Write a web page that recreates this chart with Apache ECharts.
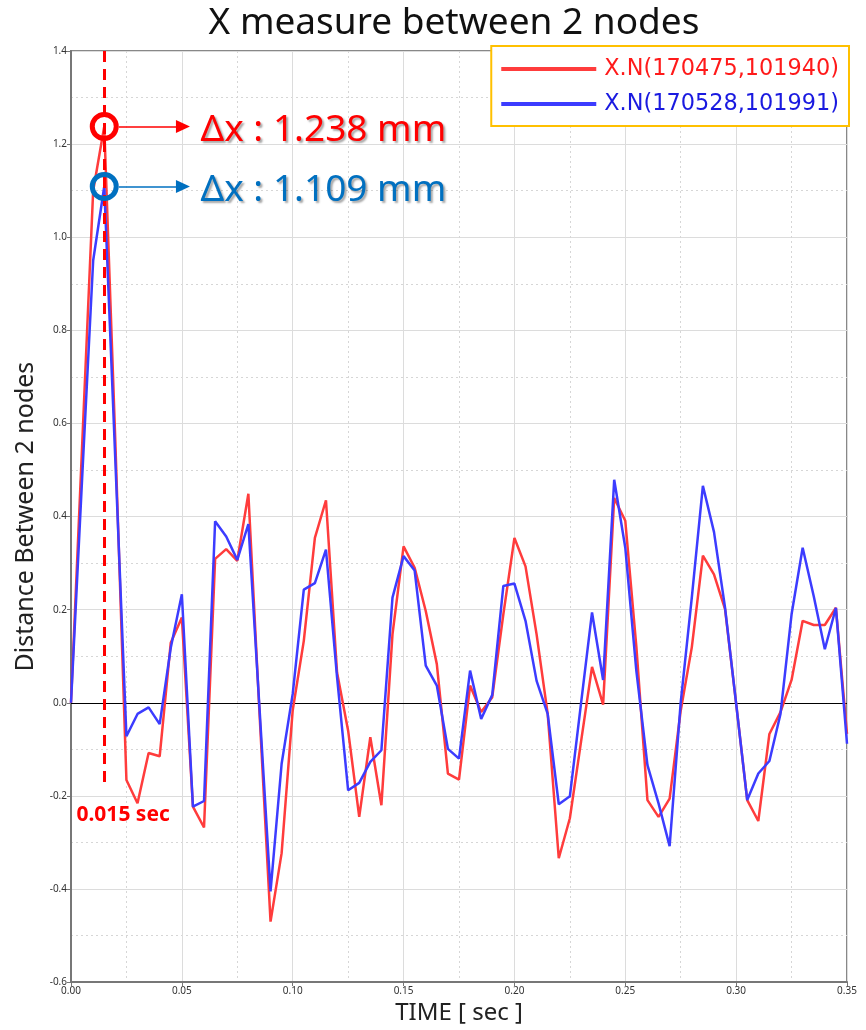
<!DOCTYPE html>
<html>
<head>
<meta charset="utf-8">
<script src="https://cdn.jsdelivr.net/npm/echarts@6/dist/echarts.min.js"></script>
<style>
html,body{margin:0;padding:0;background:#fff;}
#chart{width:866px;height:1030px;}
</style>
</head>
<body>
<div id="chart"></div>
<script>
// ---- data ----
const times = [0.000,0.005,0.010,0.015,0.020,0.025,0.030,0.035,0.040,0.045,
  0.050,0.055,0.060,0.065,0.070,0.075,0.080,0.085,0.090,0.095,
  0.100,0.105,0.110,0.115,0.120,0.125,0.130,0.135,0.140,0.145,
  0.150,0.155,0.160,0.165,0.170,0.175,0.180,0.185,0.190,0.195,
  0.200,0.205,0.210,0.215,0.220,0.225,0.230,0.235,0.240,0.245,
  0.250,0.255,0.260,0.265,0.270,0.275,0.280,0.285,0.290,0.295,
  0.300,0.305,0.310,0.315,0.320,0.325,0.330,0.335,0.340,0.345,0.350];
const redValues = [0,0.55,1.10,1.238,0.56,-0.166,-0.216,-0.108,-0.115,0.129,
  0.183,-0.223,-0.268,0.309,0.330,0.305,0.449,-0.02,-0.470,-0.323,
  -0.016,0.133,0.354,0.435,0.065,-0.060,-0.245,-0.074,-0.220,0.147,
  0.336,0.290,0.197,0.083,-0.152,-0.165,0.037,-0.020,0.012,0.19,
  0.354,0.293,0.147,-0.024,-0.334,-0.248,-0.085,0.077,-0.004,0.440,
  0.391,0.12,-0.209,-0.245,-0.206,-0.017,0.119,0.316,0.276,0.201,
  -0.002,-0.209,-0.254,-0.067,-0.020,0.049,0.176,0.167,0.167,0.204,-0.067];
const blueValues = [0,0.48,0.95,1.109,0.52,-0.072,-0.024,-0.010,-0.046,0.118,
  0.233,-0.223,-0.211,0.390,0.357,0.307,0.384,-0.01,-0.405,-0.131,
  0.019,0.243,0.257,0.329,0.055,-0.188,-0.172,-0.127,-0.102,0.226,
  0.315,0.284,0.080,0.037,-0.099,-0.120,0.069,-0.035,0.017,0.251,
  0.256,0.176,0.047,-0.024,-0.218,-0.201,-0.003,0.194,0.049,0.479,
  0.333,0.068,-0.134,-0.216,-0.308,0.001,0.226,0.466,0.367,0.204,
  -0.002,-0.209,-0.152,-0.125,-0.024,0.190,0.333,0.229,0.115,0.204,-0.088];
const seriesNames = ['X.N(170475,101940)','X.N(170528,101991)'];
const peakTime = 0.015;
const redPeak = 1.238;
const bluePeak = 1.109;
const redLabel = 'Δx : 1.238 mm';
const blueLabel = 'Δx : 1.109 mm';
const timeLabel = '0.015 sec';
const titleText = 'X measure between 2 nodes';
const xName = 'TIME [ sec ]';
const yName = 'Distance Between 2 nodes';

// ---- chart ----
const FONT = '"Noto Sans", "Open Sans", sans-serif';
const RED = '#FF0000', BLUE_ANN = '#0070C0';
const pair = (xs, ys) => xs.map((t, i) => [t, ys[i]]);
const chart = echarts.init(document.getElementById('chart'), null, {renderer:'canvas'});

function annPoint(x, y, text, color, size, weight, pos) {
  return {
    coord: [x, y], symbol: 'circle', symbolSize: 1,
    itemStyle: {color: 'rgba(0,0,0,0)'},
    label: {show: true, position: pos, distance: 0, formatter: text, color: color,
      fontSize: size, fontWeight: weight, fontFamily: FONT,
      textShadowColor: weight === 'bold' ? 'transparent' : 'rgba(0,0,0,0.35)',
      textShadowOffsetX: 2, textShadowOffsetY: 2, textShadowBlur: 2}
  };
}
function ringPoint(x, y, color) {
  return {coord: [x, y], symbol: 'circle', symbolSize: 24,
    itemStyle: {color: 'rgba(255,255,255,0)', borderColor: color, borderWidth: 5},
    label: {show: false}};
}

const option = {
  backgroundColor: '#fff',
  animation: false,
  title: {text: titleText, left: 449, top: 0, textAlign: 'center',
    textStyle: {fontFamily: FONT, fontSize: 37, fontWeight: 'normal', color: '#111'}},
  legend: {
    orient: 'vertical', right: 17, top: 46,
    backgroundColor: '#fff',
    borderColor: '#FFC000', borderWidth: 2, padding: [10, 10, 9, 10],
    itemGap: 9, itemWidth: 95, itemHeight: 4, icon: 'rect',
    textStyle: {fontFamily: '"DejaVu Sans", sans-serif', fontSize: 22.4, lineHeight: 26, padding: [0,0,0,3]},
    data: [
      {name: seriesNames[0], textStyle: {color: '#FF1A1A'}},
      {name: seriesNames[1], textStyle: {color: '#1A1AE0'}}
    ]
  },
  grid: {left: 71, right: 19, top: 51, bottom: 44, show: true, borderColor: '#888', borderWidth: 2},
  xAxis: {
    type: 'value', min: 0, max: 0.35, interval: 0.05,
    name: xName, nameLocation: 'middle', nameGap: 18,
    nameTextStyle: {fontFamily: FONT, fontSize: 24, color: '#222'},
    axisLine: {show: true, onZero: false, lineStyle: {color: '#777', width: 2}},
    axisTick: {show: true, length: 4, lineStyle: {color: '#777'}},
    axisLabel: {fontFamily: FONT, fontSize: 10, color: '#333', margin: 4, formatter: v => v.toFixed(2)},
    splitLine: {show: true, lineStyle: {color: '#dcdcdc', width: 1}},
    minorTick: {show: false, splitNumber: 2},
    minorSplitLine: {show: true, lineStyle: {color: '#d6d6d6', type: [2, 3]}}
  },
  yAxis: {
    type: 'value', min: -0.6, max: 1.4, interval: 0.2,
    name: yName, nameLocation: 'middle', nameGap: 31,
    nameTextStyle: {fontFamily: FONT, fontSize: 25, color: '#222'},
    axisLine: {show: true, onZero: false, lineStyle: {color: '#777', width: 2}},
    axisTick: {show: true, length: 4, lineStyle: {color: '#777'}},
    axisLabel: {fontFamily: FONT, fontSize: 10, color: '#333', margin: 4, formatter: v => v.toFixed(1)},
    splitLine: {show: true, lineStyle: {color: '#dcdcdc', width: 1}},
    minorTick: {show: false, splitNumber: 2},
    minorSplitLine: {show: true, lineStyle: {color: '#d6d6d6', type: [2, 3]}}
  },
  series: [
    {
      name: seriesNames[0], type: 'line', data: pair(times, redValues),
      showSymbol: false, symbol: 'none', z: 3,
      lineStyle: {color: '#FF3C3C', width: 2.5},
      itemStyle: {color: '#FF3C3C'},
      markLine: {
        silent: true, animation: false, z: 2,
        symbol: 'none', label: {show: false},
        data: [
          [{coord: [0, 0], lineStyle: {color: '#000', width: 1.2, type: 'solid'}},
           {coord: [0.35, 0]}]
        ]
      }
    },
    {
      name: seriesNames[1], type: 'line', data: pair(times, blueValues),
      showSymbol: false, symbol: 'none', z: 4,
      lineStyle: {color: '#3C3CFF', width: 2.5},
      itemStyle: {color: '#3C3CFF'}
    },
    {
      // annotations layer
      name: 'ann', type: 'line', data: [], z: 10, silent: true,
      markLine: {
        silent: true, animation: false, label: {show: false},
        data: [
          [{coord: [peakTime, 1.4], symbol: 'none', lineStyle: {color: RED, width: 3, type: [11, 7]}},
           {coord: [peakTime, -0.177], symbol: 'none'}],
          [{coord: [peakTime + 0.0066, redPeak], symbol: 'none', lineStyle: {color: RED, width: 1.5, type: 'solid'}},
           {coord: [peakTime + 0.0355, redPeak], symbol: 'triangle', symbolSize: [13, 14]}],
          [{coord: [peakTime + 0.0066, bluePeak], symbol: 'none', lineStyle: {color: BLUE_ANN, width: 1.5, type: 'solid'}},
           {coord: [peakTime + 0.0355, bluePeak], symbol: 'triangle', symbolSize: [13, 14]}]
        ]
      },
      markPoint: {
        silent: true, animation: false,
        data: [
          ringPoint(peakTime, redPeak, RED),
          ringPoint(peakTime, bluePeak, BLUE_ANN),
          annPoint(peakTime + 0.0432, redPeak - 0.008, redLabel, RED, 37, 'normal', 'right'),
          annPoint(peakTime + 0.0432, bluePeak - 0.008, blueLabel, BLUE_ANN, 37, 'normal', 'right'),
          annPoint(peakTime + 0.0085, -0.241, timeLabel, RED, 21, 'bold', 'inside')
        ]
      }
    }
  ]
};
chart.setOption(option);
</script>
</body>
</html>
